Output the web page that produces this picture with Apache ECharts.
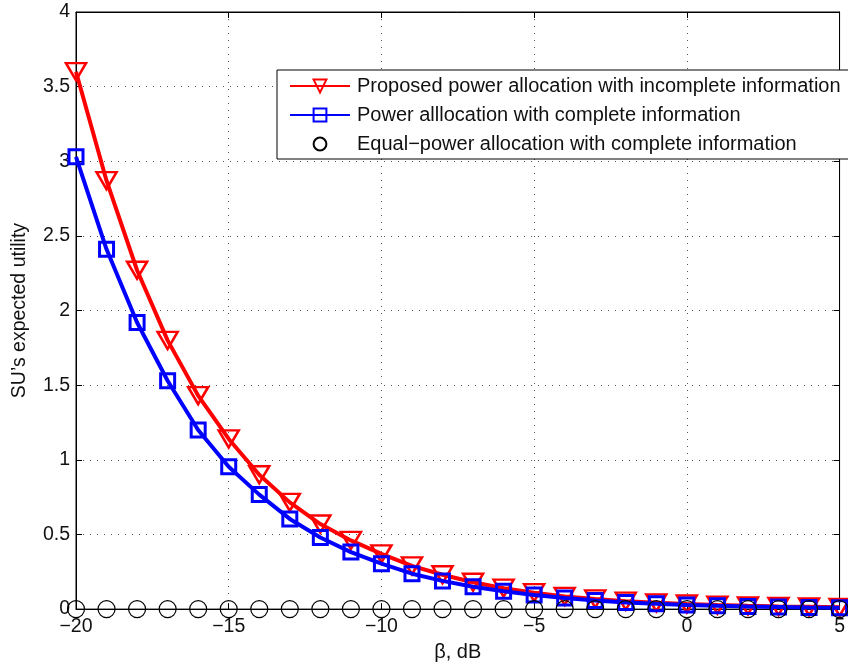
<!DOCTYPE html>
<html>
<head>
<meta charset="utf-8">
<script src="https://cdn.jsdelivr.net/npm/echarts@6/dist/echarts.min.js"></script>
<style>
  html, body { margin: 0; padding: 0; background: #fff; }
  #chart { width: 848px; height: 667px; }
</style>
</head>
<body>
<div id="chart"></div>
<script>
  // beta, dB
  var betaDb = [-20, -19, -18, -17, -16, -15, -14, -13, -12, -11, -10, -9, -8, -7, -6, -5, -4, -3, -2, -1, 0, 1, 2, 3, 4, 5];
  var proposedIncomplete = [3.6, 2.87, 2.27, 1.8, 1.43, 1.14, 0.9, 0.715, 0.57, 0.46, 0.37, 0.29, 0.23, 0.18, 0.14, 0.11, 0.085, 0.068, 0.053, 0.042, 0.034, 0.027, 0.022, 0.018, 0.015, 0.012];
  var powerComplete = [3.03, 2.41, 1.92, 1.53, 1.2, 0.953, 0.767, 0.604, 0.48, 0.382, 0.304, 0.237, 0.189, 0.15, 0.12, 0.095, 0.075, 0.058, 0.045, 0.036, 0.028, 0.022, 0.017, 0.014, 0.011, 0.009];
  var equalPower = [0, 0, 0, 0, 0, 0, 0, 0, 0, 0, 0, 0, 0, 0, 0, 0, 0, 0, 0, 0, 0, 0, 0, 0, 0, 0];
  var seriesNames = [
    'Proposed power allocation with incomplete information',
    'Power alllocation with complete information',
    'Equal\u2212power allocation with complete information'
  ];

  function pairs(ys) {
    return betaDb.map(function (x, i) { return [x, ys[i]]; });
  }
  function minus(v) {
    return String(v).replace('-', '\u2212');
  }

  var font = 'Liberation Sans, Arial, Helvetica, sans-serif';
  var dotted = { show: true, lineStyle: { color: '#555', type: [1, 6], width: 1 } };
  var boxAxis = {
    axisLine: { show: true, onZero: false, lineStyle: { color: '#000' } },
    axisTick: { inside: true, length: 6, lineStyle: { color: '#000' } },
    axisLabel: { show: false }, splitLine: { show: false }
  };

  var myChart = echarts.init(document.getElementById('chart'));
  myChart.setOption({
    animation: false,
    textStyle: { fontFamily: font },
    grid: {
      left: 76, right: 5, top: 12, bottom: 55,
      show: true, borderColor: '#000', borderWidth: 1
    },
    legend: {
      orient: 'vertical',
      left: 277, top: 70,
      padding: [6, 12, 5, 12],
      itemGap: 9,
      itemWidth: 60, itemHeight: 16,
      backgroundColor: '#fff',
      borderColor: '#000', borderWidth: 1,
      textStyle: { fontSize: 20, color: '#111', fontFamily: font, padding: [0, 0, 0, 2] },
      data: seriesNames
    },
    xAxis: [{
      type: 'value', min: -20, max: 5, interval: 5,
      name: '\u03b2, dB', nameLocation: 'middle', nameGap: 27,
      nameTextStyle: { fontSize: 20, color: '#111' },
      axisLine: { show: true, onZero: false, lineStyle: { color: '#000' } },
      axisTick: { inside: true, length: 6, lineStyle: { color: '#000' } },
      axisLabel: { fontSize: 19.5, color: '#111', margin: 8, formatter: minus },
      splitLine: dotted
    }, Object.assign({ type: 'value', min: -20, max: 5, interval: 5, position: 'top' }, boxAxis)],
    yAxis: [{
      type: 'value', min: 0, max: 4, interval: 0.5,
      name: 'SU\u2019s expected utility', nameLocation: 'middle', nameGap: 46,
      nameTextStyle: { fontSize: 19.5, color: '#111' },
      axisLine: { show: true, onZero: false, lineStyle: { color: '#000' } },
      axisTick: { inside: true, length: 6, lineStyle: { color: '#000' } },
      axisLabel: { fontSize: 19.5, color: '#111', margin: 6 },
      splitLine: dotted
    }, Object.assign({ type: 'value', min: 0, max: 4, interval: 0.5, position: 'right' }, boxAxis)],
    series: [{
      name: seriesNames[0],
      type: 'line',
      data: pairs(proposedIncomplete),
      symbol: 'triangle', symbolRotate: 180, symbolSize: [20, 17],
      lineStyle: { color: '#ff0000', width: 4 },
      itemStyle: { color: 'rgba(255,255,255,0)', borderColor: '#ff0000', borderWidth: 2.5 },
      z: 2
    }, {
      name: seriesNames[1],
      type: 'line',
      data: pairs(powerComplete),
      symbol: 'rect', symbolSize: 14,
      lineStyle: { color: '#0000ff', width: 4 },
      itemStyle: { color: 'rgba(255,255,255,0)', borderColor: '#0000ff', borderWidth: 3 },
      z: 3
    }, {
      name: seriesNames[2],
      type: 'line',
      data: pairs(equalPower),
      symbol: 'circle', symbolSize: 17,
      lineStyle: { width: 0, opacity: 0 },
      itemStyle: { color: 'rgba(255,255,255,0)', borderColor: '#000', borderWidth: 1.2 },
      z: 4
    }]
  });
  window.onresize = () => myChart.resize()
</script>
</body>
</html>
